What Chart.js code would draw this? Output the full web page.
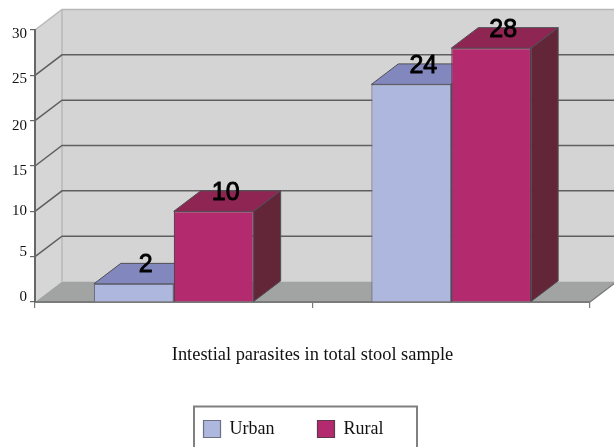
<!DOCTYPE html>
<html>
<head>
<meta charset="utf-8">
<style>
html,body{margin:0;padding:0;background:#fff;overflow:hidden}
canvas{display:block;filter:blur(0.4px)}
</style>
<script src="https://cdn.jsdelivr.net/npm/chart.js@4"></script>
</head>
<body>
<canvas id="c" width="614" height="447"></canvas>
<script>
const categories = ['', ''];
const urban = [2, 24];
const rural = [10, 28];
const axisTitle = 'Intestial parasites in total stool sample';
const SERIF = '"Liberation Serif", serif';
const DEPTH_X = 27, DEPTH_Y = 20.5;
const faces = {
  Urban: {front:'#aeb7de', top:'#8287be', side:'#5d6090', edge:'#6d7085'},
  Rural: {front:'#b42a6e', top:'#8f2553', side:'#632639', edge:'#5c3a4c'}
};
function poly(ctx, pts, fill, stroke, lw){
  ctx.beginPath();
  pts.forEach((p,i)=> i ? ctx.lineTo(p[0],p[1]) : ctx.moveTo(p[0],p[1]));
  ctx.closePath();
  if(fill){ctx.fillStyle=fill;ctx.fill();}
  if(stroke){ctx.strokeStyle=stroke;ctx.lineWidth=lw||1;ctx.stroke();}
}
const labelNudge = {0:-5,5:-5,10:0,15:5,20:5,25:4,30:4};
const chamber = {
  id:'chamber',
  beforeLayout(chart){
    const lg = chart.legend;
    if(!lg._wrapped){
      const fit = lg.fit;
      lg.fit = function(){ fit.call(this); this.height = 0; };
      lg._wrapped = true;
    }
  },
  afterLayout(chart){
    const lg = chart.legend, w = lg.width, c = 293.5;
    lg.left = c - w/2; lg.right = c + w/2;
    lg.top = 377; lg.bottom = 447;
  },
  beforeDraw(chart){
    const ctx = chart.ctx, a = chart.chartArea, y = chart.scales.y;
    y.getLabelItems().forEach((it,i)=>{
      const v = y.ticks[i].value;
      if(!it.nudged){ it.textOffset += labelNudge[v]||0; it.nudged = true; }
    });
    const W = chart.width + 10;
    ctx.save();
    const topY = y.getPixelForValue(30), botY = y.getPixelForValue(0);
    poly(ctx,[[a.left+DEPTH_X,topY-DEPTH_Y],[W,topY-DEPTH_Y],[W,botY-DEPTH_Y],[a.left+DEPTH_X,botY-DEPTH_Y]],'#d4d4d4');
    poly(ctx,[[a.left,topY],[a.left+DEPTH_X,topY-DEPTH_Y],[a.left+DEPTH_X,botY-DEPTH_Y],[a.left,botY]],'#d6d6d6');
    poly(ctx,[[a.left,botY],[a.left+DEPTH_X,botY-DEPTH_Y],[a.right+DEPTH_X,botY-DEPTH_Y],[a.right,botY]],'#a2a4a3');
    ctx.strokeStyle='#b8b8b8';ctx.lineWidth=1.5;
    ctx.beginPath();
    ctx.moveTo(a.left,topY);ctx.lineTo(a.left+DEPTH_X,topY-DEPTH_Y);ctx.lineTo(W,topY-DEPTH_Y);
    ctx.moveTo(a.left+DEPTH_X,topY-DEPTH_Y);ctx.lineTo(a.left+DEPTH_X,botY-DEPTH_Y);
    ctx.stroke();
    ctx.strokeStyle='#5f5f5f';ctx.lineWidth=1.5;
    y.ticks.forEach(t=>{
      if(t.value===0||t.value===30) return;
      const p = y.getPixelForValue(t.value);
      ctx.beginPath();
      ctx.moveTo(a.left,p);ctx.lineTo(a.left+DEPTH_X,p-DEPTH_Y);ctx.lineTo(W,p-DEPTH_Y);
      ctx.stroke();
    });
    ctx.strokeStyle='#777';ctx.lineWidth=1.2;
    ctx.beginPath();ctx.moveTo(a.right,botY);ctx.lineTo(a.right+DEPTH_X,botY-DEPTH_Y);ctx.stroke();
    ctx.strokeStyle='#808080';ctx.lineWidth=2;
    ctx.strokeRect(194,406.5,223,50);
    ctx.restore();
  },
  beforeDatasetsDraw(chart){
    const ctx = chart.ctx;
    chart.data.datasets.forEach((ds,di)=>{
      const f = faces[ds.label];
      chart.getDatasetMeta(di).data.forEach(b=>{
        const {x,y,base,width} = b.getProps(['x','y','base','width']);
        const L = x-width/2, R = x+width/2;
        poly(ctx,[[L,y],[L+DEPTH_X,y-DEPTH_Y],[R+DEPTH_X,y-DEPTH_Y],[R,y]],f.top,'#4f4f55',1);
        poly(ctx,[[R,y],[R+DEPTH_X,y-DEPTH_Y],[R+DEPTH_X,base-DEPTH_Y],[R,base]],f.side,'#4f4f55',1);
      });
    });
  },
  afterDatasetsDraw(chart){
    const ctx = chart.ctx;
    ctx.save();
    ctx.font = '25px "Liberation Sans", sans-serif';
    ctx.textAlign='center';ctx.textBaseline='middle';
    ctx.fillStyle='#000';ctx.strokeStyle='#000';ctx.lineWidth=0.9;
    chart.data.datasets.forEach((ds,di)=>{
      chart.getDatasetMeta(di).data.forEach((b,i)=>{
        const t = String(ds.data[i]);
        const lx = b.x+12, ly = b.y-DEPTH_Y+2;
        ctx.fillText(t,lx,ly);ctx.strokeText(t,lx,ly);
      });
    });
    ctx.restore();
  }
};
new Chart(document.getElementById('c'),{
  type:'bar',
  plugins:[chamber],
  data:{
    labels:categories,
    datasets:[
      {label:'Urban',data:urban,backgroundColor:faces.Urban.front,borderColor:faces.Urban.edge,borderWidth:1.2},
      {label:'Rural',data:rural,backgroundColor:faces.Rural.front,borderColor:faces.Rural.edge,borderWidth:1.2}
    ]
  },
  options:{
    responsive:false,
    animation:false,
    devicePixelRatio:1,
    layout:{padding:{top:30,right:24,left:0,bottom:0}},
    datasets:{bar:{categoryPercentage:0.576,barPercentage:1}},
    plugins:{
      tooltip:{enabled:false},
      title:{display:false},
      legend:{
        position:'bottom',
        labels:{
          boxWidth:17,boxHeight:17,padding:43,color:'#111',
          font:{family:SERIF,size:18}
        }
      }
    },
    scales:{
      x:{
        afterFit(s){s.height=145;},
        border:{color:'#7a7a7a',width:2},
        grid:{drawOnChartArea:false,drawTicks:true,tickLength:6,color:'#7a7a7a',lineWidth:1.2},
        ticks:{display:true},
        title:{display:true,text:axisTitle,color:'#111',font:{family:SERIF,size:18.4},padding:{top:0,bottom:81}}
      },
      y:{
        min:0,max:30,
        afterFit(s){s.width=35;},
        border:{color:'#666',width:2},
        grid:{drawOnChartArea:false,drawTicks:true,tickLength:5,color:'#666',lineWidth:1.2},
        ticks:{stepSize:5,color:'#111',padding:3,font:{family:SERIF,size:15}}
      }
    }
  }
});
</script>
</body>
</html>
